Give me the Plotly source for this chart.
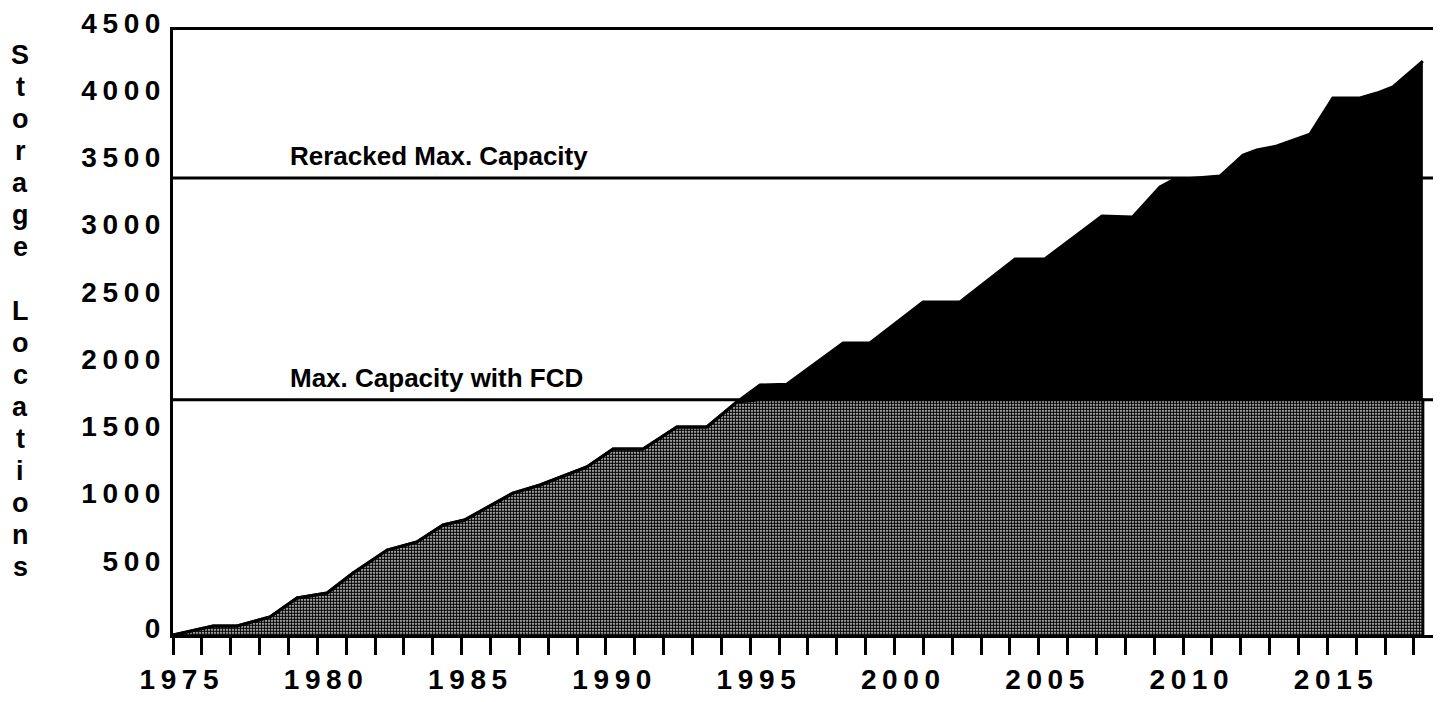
import plotly.graph_objects as go

# ---- data ----
years = [1975.0, 1976.04, 1976.39, 1977.22, 1978.36, 1979.30, 1980.34, 1981.24,
         1982.42, 1983.45, 1984.36, 1985.10, 1986.78, 1987.72, 1989.34, 1990.25,
         1991.29, 1992.46, 1993.50, 1994.54, 1995.34, 1996.27, 1998.22, 1999.15,
         2000.99, 2002.27, 2004.18, 2005.21, 2007.19, 2008.26, 2009.20, 2009.65,
         2011.28, 2012.08, 2012.56, 2013.25, 2014.40, 2015.19, 2016.13, 2016.72,
         2017.27, 2018.31]
locations = [0, 52, 67, 67, 134, 275, 312, 461,
             632, 692, 818, 855, 1056, 1116, 1250, 1383,
             1383, 1547, 1547, 1733, 1860, 1865, 2172, 2172,
             2477, 2477, 2797, 2797, 3117, 3110, 3332, 3384,
             3414, 3570, 3607, 3637, 3726, 3994, 3994, 4031,
             4076, 4269]

FCD_CAPACITY = 1750
RERACKED_CAPACITY = 3400
FCD_LABEL = "Max. Capacity with FCD"
RERACKED_LABEL = "Reracked Max. Capacity"
AXIS_TITLE = "Storage Locations"

x_ticks = list(range(1975, 2019))
x_labeled = [1975, 1980, 1985, 1990, 1995, 2000, 2005, 2010, 2015]
y_ticks = [0, 500, 1000, 1500, 2000, 2500, 3000, 3500, 4000, 4500]

THIN = "\u2009"


def spaced(v):
    return THIN.join(str(v))


x_ticktext = [spaced(y) if y in x_labeled else "" for y in x_ticks]
y_ticktext = [spaced(v) for v in y_ticks]

FONT = "Liberation Sans, Arial, sans-serif"

# clipped (within FCD capacity) part and full curve
clipped = [min(v, FCD_CAPACITY) for v in locations]
xs_closed = years + [years[-1]]
clipped_closed = clipped + [0]

fig = go.Figure()

fig.add_trace(go.Scatter(
    x=xs_closed, y=clipped_closed, mode="lines",
    line=dict(color="black", width=3),
    fill="tozeroy",
    fillcolor="#7a7a7a",
    fillpattern=dict(shape=".", fgcolor="black", bgcolor="white",
                     size=3, solidity=0.7, fillmode="replace"),
    hoverinfo="skip", showlegend=False,
))

fig.add_trace(go.Scatter(
    x=years, y=locations, mode="lines",
    line=dict(color="black", width=3),
    fill="tonexty", fillcolor="black",
    hoverinfo="skip", showlegend=False,
))

# capacity lines
for val in (FCD_CAPACITY, RERACKED_CAPACITY):
    fig.add_shape(type="line", xref="paper", x0=0, x1=1, yref="y",
                  y0=val, y1=val, line=dict(color="black", width=3),
                  layer="below")

fig.add_annotation(x=1979.0, y=RERACKED_CAPACITY, xref="x", yref="y",
                   text=RERACKED_LABEL, showarrow=False,
                   xanchor="left", yanchor="bottom", yshift=5,
                   font=dict(family=FONT, size=26, color="black", weight="bold"))
fig.add_annotation(x=1979.0, y=FCD_CAPACITY, xref="x", yref="y",
                   text=FCD_LABEL, showarrow=False,
                   xanchor="left", yanchor="bottom", yshift=5,
                   font=dict(family=FONT, size=26, color="black", weight="bold"))

# stacked vertical axis title
top = 0.9587
step = 0.0529
for i, ch in enumerate(AXIS_TITLE):
    if ch == " ":
        continue
    fig.add_annotation(x=-0.121, y=top - i * step, xref="paper", yref="paper",
                       text=ch, showarrow=False, xanchor="center",
                       yanchor="middle",
                       font=dict(family=FONT, size=27, color="black",
                                 weight="bold"))

fig.update_layout(
    width=1433, height=694,
    margin=dict(l=165, r=4, t=22, b=67, autoexpand=False),
    paper_bgcolor="white", plot_bgcolor="white",
    font=dict(family=FONT, color="black"),
    xaxis=dict(range=[1975, 2018.8], tickmode="array", tickvals=x_ticks,
               ticktext=x_ticktext, ticks="outside", ticklen=17, tickwidth=3,
               tickcolor="black", showgrid=False, zeroline=False,
               showline=True, linewidth=3, linecolor="black", mirror=True,
               tickfont=dict(family=FONT, size=28, weight="bold"),
               ticklabelshift=6, automargin=False,
               ticklabeloverflow="allow"),
    yaxis=dict(range=[0, 4500], tickmode="array", tickvals=y_ticks,
               ticktext=y_ticktext, ticks="", showgrid=False, zeroline=False,
               showline=True, linewidth=3, linecolor="black", mirror=True,
               tickfont=dict(family=FONT, size=28, weight="bold"),
               ticklabelshift=-7, ticklabelstandoff=4, automargin=False,
               ticklabeloverflow="allow"),
)

fig.write_html("out.html")
